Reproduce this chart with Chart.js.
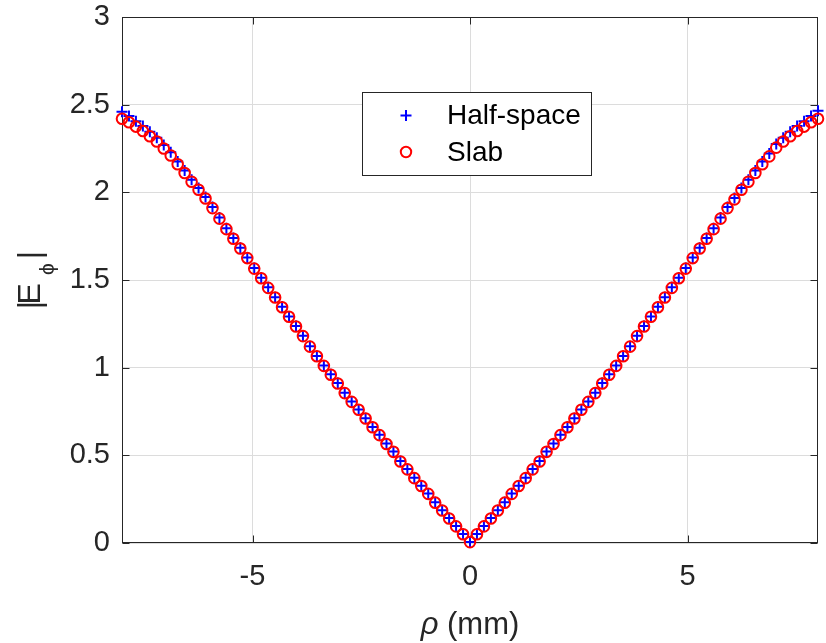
<!DOCTYPE html>
<html><head><meta charset="utf-8">
<script src="https://cdn.jsdelivr.net/npm/chart.js@4"></script>
<style>html,body{margin:0;padding:0;background:#fff}</style>
</head><body>
<canvas id="c" width="826" height="643"></canvas>
<script>
const rho = [-8,-7.84,-7.68,-7.52,-7.36,-7.2,-7.04,-6.88,-6.72,-6.56,-6.4,-6.24,-6.08,-5.92,-5.76,-5.6,-5.44,-5.28,-5.12,-4.96,-4.8,-4.64,-4.48,-4.32,-4.16,-4,-3.84,-3.68,-3.52,-3.36,-3.2,-3.04,-2.88,-2.72,-2.56,-2.4,-2.24,-2.08,-1.92,-1.76,-1.6,-1.44,-1.28,-1.12,-0.96,-0.8,-0.64,-0.48,-0.32,-0.16,0,0.16,0.32,0.48,0.64,0.8,0.96,1.12,1.28,1.44,1.6,1.76,1.92,2.08,2.24,2.4,2.56,2.72,2.88,3.04,3.2,3.36,3.52,3.68,3.84,4,4.16,4.32,4.48,4.64,4.8,4.96,5.12,5.28,5.44,5.6,5.76,5.92,6.08,6.24,6.4,6.56,6.72,6.88,7.04,7.2,7.36,7.52,7.68,7.84,8];

const halfSpace = [2.46,2.435,2.405,2.378,2.345,2.312,2.27,2.228,2.176,2.124,2.072,2.025,1.973,1.917,1.856,1.795,1.74,1.684,1.629,1.568,1.513,1.458,1.402,1.347,1.292,1.237,1.182,1.122,1.067,1.012,0.962,0.912,0.857,0.807,0.762,0.712,0.662,0.617,0.567,0.522,0.467,0.422,0.372,0.327,0.282,0.232,0.187,0.142,0.097,0.052,0.005,
0.052,0.097,0.142,0.187,0.232,0.282,0.327,0.372,0.422,0.467,0.522,0.567,0.617,0.662,0.712,0.762,0.807,0.857,0.912,0.962,1.012,1.067,1.122,1.182,1.237,1.292,1.347,1.402,1.458,1.513,1.568,1.629,1.684,1.74,1.795,1.856,1.917,1.968,2.025,2.072,2.124,2.176,2.222,2.275,2.312,2.345,2.378,2.405,2.435,2.465];

const slab = [2.42,2.40,2.375,2.35,2.32,2.29,2.25,2.21,2.16,2.11,2.06,2.015,1.965,1.91,1.85,1.79,1.735,1.68,1.625,1.565,1.51,1.455,1.40,1.345,1.29,1.235,1.18,1.12,1.065,1.01,0.96,0.91,0.855,0.805,0.76,0.71,0.66,0.615,0.565,0.52,0.465,0.42,0.37,0.325,0.28,0.23,0.185,0.14,0.095,0.05,0.005,
0.05,0.095,0.14,0.185,0.23,0.28,0.325,0.37,0.42,0.465,0.52,0.565,0.615,0.66,0.71,0.76,0.805,0.855,0.91,0.96,1.01,1.065,1.12,1.18,1.235,1.29,1.345,1.40,1.455,1.51,1.565,1.625,1.68,1.735,1.79,1.85,1.91,1.96,2.015,2.06,2.11,2.16,2.205,2.255,2.29,2.32,2.35,2.375,2.40,2.42];

const xTicks = [-5, 0, 5];
const yTicks = [0, 0.5, 1, 1.5, 2, 2.5, 3];
const seriesNames = ['Half-space', 'Slab'];
const xTitleSymbol = 'ρ';
const xTitleUnit = ' (mm)';
const yTitleMain = 'E';
const yTitleSub = 'ϕ';

const FONT = '"Liberation Sans", Arial, Helvetica, sans-serif';
const AX = '#262626';

function drawPlus(ctx, x, y, r, w, c){
  ctx.save(); ctx.strokeStyle=c; ctx.lineWidth=w; ctx.beginPath();
  ctx.moveTo(x-r,y); ctx.lineTo(x+r,y); ctx.moveTo(x,y-r); ctx.lineTo(x,y+r); ctx.stroke(); ctx.restore();
}
function drawCircle(ctx, x, y, r, w, c){
  ctx.save(); ctx.strokeStyle=c; ctx.lineWidth=w; ctx.beginPath();
  ctx.arc(x,y,r,0,Math.PI*2); ctx.stroke(); ctx.restore();
}

const framePlugin = {
  id: 'frame',
  beforeDatasetsDraw(chart){
    const {ctx, chartArea:a, scales:{x, y}} = chart;
    ctx.save();
    ctx.strokeStyle = AX; ctx.lineWidth = 1;
    const L = Math.round(a.left)+0.5, R = Math.round(a.right)-0.5, T = Math.round(a.top)+0.5, B = Math.round(a.bottom)-0.5;
    ctx.strokeRect(L, T, R-L, B-T);
    const tl = 7;
    ctx.beginPath();
    xTicks.forEach(v => {
      const px = Math.round(x.getPixelForValue(v))+0.5;
      ctx.moveTo(px, B); ctx.lineTo(px, B-tl);
      ctx.moveTo(px, T); ctx.lineTo(px, T+tl);
    });
    yTicks.forEach(v => {
      const py = Math.round(y.getPixelForValue(v))+0.5;
      ctx.moveTo(L, py); ctx.lineTo(L+tl, py);
      ctx.moveTo(R, py); ctx.lineTo(R-tl, py);
    });
    ctx.stroke();
    ctx.restore();
  },
  afterDraw(chart){
    const {ctx, chartArea:a} = chart;
    ctx.save();
    // legend
    const lx = a.left + 240, ly = a.top + 75, lw = 229, lh = 83;
    ctx.fillStyle = '#fff';
    ctx.fillRect(lx, ly, lw, lh);
    ctx.strokeStyle = AX; ctx.lineWidth = 1;
    ctx.strokeRect(Math.round(lx)+0.5, Math.round(ly)+0.5, lw, lh);
    drawPlus(ctx, lx+44, ly+23.5, 5.5, 2, '#0000ff');
    drawCircle(ctx, lx+44, ly+60, 5.2, 2, '#ff0000');
    ctx.fillStyle = '#000';
    ctx.font = '28px ' + FONT;
    ctx.textBaseline = 'middle'; ctx.textAlign = 'left';
    ctx.fillText(seriesNames[0], lx+85, ly+24.5);
    ctx.fillText(seriesNames[1], lx+85, ly+61);

    // x title
    ctx.fillStyle = AX;
    const fN = '31px ' + FONT, fI = 'italic 31px ' + FONT;
    ctx.font = fI; const w1 = ctx.measureText(xTitleSymbol).width;
    ctx.font = fN; const w2 = ctx.measureText(xTitleUnit).width;
    const cx = (a.left + a.right)/2;
    let sx = cx - (w1+w2)/2;
    ctx.textBaseline = 'alphabetic'; ctx.textAlign = 'left';
    ctx.font = fI; ctx.fillText(xTitleSymbol, sx, 634);
    ctx.font = fN; ctx.fillText(xTitleUnit, sx + w1, 634);

    // y title
    ctx.translate(40, (a.top + a.bottom)/2);
    ctx.rotate(-Math.PI/2);
    ctx.font = '32px ' + FONT;
    ctx.textBaseline = 'alphabetic';
    ctx.textAlign = 'center';
    ctx.fillText('|', -25, 0);
    ctx.textAlign = 'left';
    ctx.fillText(yTitleMain, -24.5, 0);
    ctx.font = '21px ' + FONT;
    ctx.textAlign = 'center';
    ctx.fillText(yTitleSub, 11, 14);
    ctx.font = '32px ' + FONT;
    ctx.fillText('|', 25, 0);
    ctx.restore();
  }
};

const ctx = document.getElementById('c').getContext('2d');
new Chart(ctx, {
  type: 'scatter',
  data: {
    datasets: [
      {
        label: seriesNames[0],
        data: rho.map((r, i) => ({x: r, y: halfSpace[i]})),
        pointStyle: 'cross', pointRadius: 5.5, pointBorderWidth: 2,
        borderColor: '#0000ff', pointBorderColor: '#0000ff', pointBackgroundColor: '#0000ff',
        showLine: false, order: 1, clip: false
      },
      {
        label: seriesNames[1],
        data: rho.map((r, i) => ({x: r, y: slab[i]})),
        pointStyle: 'circle', pointRadius: 5.3, pointBorderWidth: 2,
        borderColor: '#ff0000', pointBorderColor: '#ff0000', pointBackgroundColor: 'rgba(0,0,0,0)',
        showLine: false, order: 0, clip: false
      }
    ]
  },
  options: {
    responsive: false, animation: false, events: [],
    layout: {padding: {left: 0, right: 8, top: 17, bottom: 0}},
    plugins: {legend: {display: false}, tooltip: {enabled: false}},
    scales: {
      x: {
        type: 'linear', min: -8, max: 8,
        afterBuildTicks(s){ s.ticks = xTicks.map(v => ({value: v})); },
        afterFit(s){ s.height = 100; s.paddingLeft = 0; s.paddingRight = 0; },
        grid: {color: '#dcdcdc', drawTicks: false, lineWidth: 1},
        border: {display: false},
        ticks: {padding: 17, color: AX, font: {family: FONT, size: 29}, maxRotation: 0, autoSkip: false, callback: v => String(v)}
      },
      y: {
        type: 'linear', min: 0, max: 3,
        afterBuildTicks(s){ s.ticks = yTicks.map(v => ({value: v})); },
        afterFit(s){ s.width = 122; s.paddingTop = 0; s.paddingBottom = 0; },
        grid: {color: '#dcdcdc', drawTicks: false, lineWidth: 1},
        border: {display: false},
        ticks: {padding: 12, color: AX, font: {family: FONT, size: 29}, autoSkip: false, callback: v => String(v)}
      }
    }
  },
  plugins: [framePlugin]
});
</script>
</body></html>
